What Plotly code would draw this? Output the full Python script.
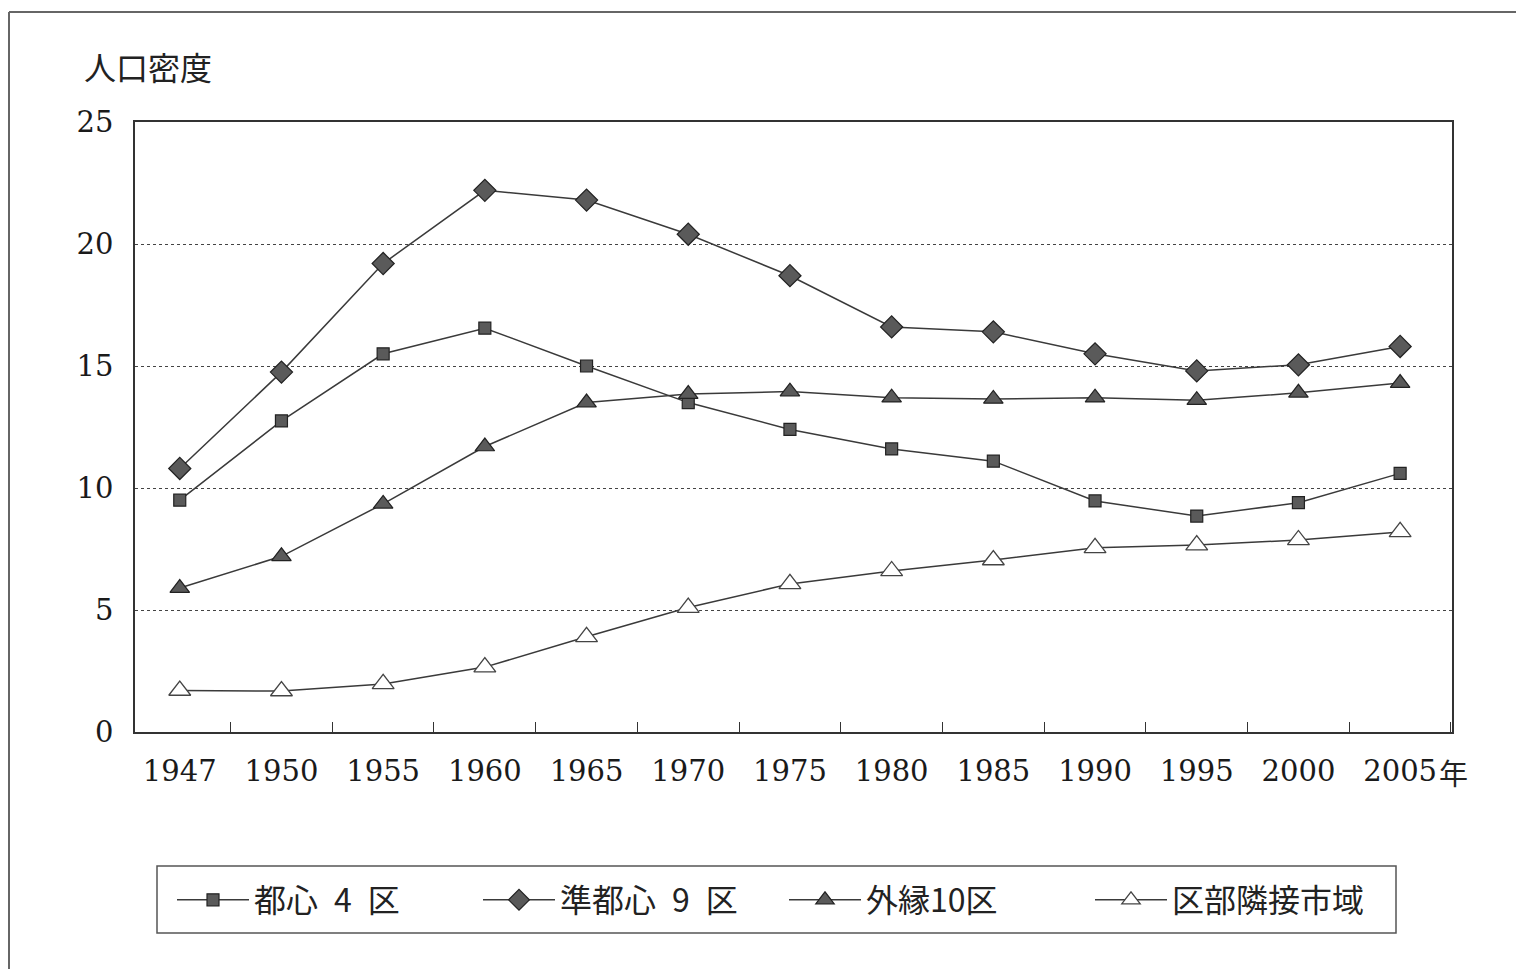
import plotly.graph_objects as go

years = ["1947", "1950", "1955", "1960", "1965", "1970", "1975", "1980", "1985", "1990", "1995", "2000", "2005"]
toshin4 = [9.5, 12.75, 15.5, 16.55, 15.0, 13.5, 12.4, 11.6, 11.1, 9.47, 8.85, 9.4, 10.6]
juntoshin9 = [10.8, 14.75, 19.2, 22.2, 21.8, 20.4, 18.7, 16.6, 16.4, 15.5, 14.8, 15.05, 15.8]
gaien10 = [5.9, 7.2, 9.35, 11.7, 13.5, 13.85, 13.95, 13.7, 13.65, 13.7, 13.6, 13.9, 14.3]
rinsetsu = [1.7, 1.68, 1.97, 2.66, 3.9, 5.1, 6.07, 6.6, 7.05, 7.55, 7.66, 7.87, 8.2]
names = ["都心\u20024\u2002区", "準都心\u20029\u2002区", "外縁10区", "区部隣接市域"]
ytick_vals = [0, 5, 10, 15, 20, 25]

# page body has an 8px margin; lay out in reference pixel coordinates
OFF = 8
W, H = 1524 - OFF, 969 - OFF
plot_l, plot_r, plot_t, plot_b = 135, 1452, 122, 732
L, T = plot_l - OFF, plot_t - OFF
R, B = W - (plot_r - OFF), H - (plot_b - OFF)
pw, ph = plot_r - plot_l, plot_b - plot_t

def px_x(x):
    return (x - plot_l) / pw

def px_y(y):
    return (plot_b - y) / ph

line_col = "#3a3a3a"
fig = go.Figure()
fig.add_trace(go.Scatter(x=years, y=toshin4, name=names[0], mode="lines+markers",
                         line=dict(color=line_col, width=1.5),
                         marker=dict(symbol="square", size=12, color="#5a5a5a",
                                     line=dict(color="#222", width=1.2))))
fig.add_trace(go.Scatter(x=years, y=juntoshin9, name=names[1], mode="lines+markers",
                         line=dict(color=line_col, width=1.5),
                         marker=dict(symbol="diamond", size=17, color="#5a5a5a",
                                     line=dict(color="#222", width=1.2))))
fig.add_trace(go.Scatter(x=years, y=gaien10, name=names[2], mode="lines+markers",
                         line=dict(color=line_col, width=1.5),
                         marker=dict(symbol="triangle-up", size=17, color="#5a5a5a",
                                     line=dict(color="#222", width=1.2))))
fig.add_trace(go.Scatter(x=years, y=rinsetsu, name=names[3], mode="lines+markers",
                         line=dict(color=line_col, width=1.5),
                         marker=dict(symbol="triangle-up", size=19, color="white",
                                     line=dict(color="#444", width=1.3))))

serif = "DejaVu Serif"
cjk = "Noto Sans CJK JP"

fig.update_layout(
    width=W, height=H,
    margin=dict(l=L, r=R, t=T, b=B, pad=0),
    paper_bgcolor="white", plot_bgcolor="white",
    font=dict(family=cjk, color="#222"),
    xaxis=dict(type="category", range=[-0.44, 12.51], showline=True, mirror=True,
               linecolor="#333", linewidth=1.5, showgrid=False, ticks="inside",
               tickson="boundaries", ticklen=10, tickcolor="#333", tickwidth=1.2,
               tickfont=dict(family=serif, size=29, color="#1a1a1a"), ticklabelstandoff=12),
    yaxis=dict(range=[0, 25], tickvals=ytick_vals, showline=True, mirror=True,
               linecolor="#333", linewidth=1.5, showgrid=True, gridcolor="#444",
               griddash="dot", gridwidth=1, zeroline=False, ticks="",
               tickfont=dict(family=serif, size=29, color="#1a1a1a"), ticklabelstandoff=14),
    showlegend=True,
    legend=dict(orientation="h", x=px_x(172), xanchor="left", y=px_y(900), yanchor="middle",
                borderwidth=0, bgcolor="rgba(0,0,0,0)",
                font=dict(family=cjk, size=32, color="#222"),
                entrywidth=219, itemwidth=72, tracegroupgap=0),
    annotations=[
        dict(text="人口密度", x=px_x(82), y=px_y(66), xref="paper", yref="paper",
             xanchor="left", yanchor="middle", showarrow=False,
             font=dict(family=cjk, size=32, color="#222")),
        dict(text="年", x=px_x(1437), y=px_y(772), xref="paper", yref="paper",
             xanchor="left", yanchor="middle", showarrow=False,
             font=dict(family=cjk, size=29, color="#222")),
    ],
    shapes=[
        dict(type="line", xref="paper", yref="paper", x0=px_x(9), x1=px_x(1530),
             y0=px_y(12), y1=px_y(12), line=dict(color="#666", width=2)),
        dict(type="line", xref="paper", yref="paper", x0=px_x(9), x1=px_x(9),
             y0=px_y(12), y1=px_y(975), line=dict(color="#666", width=2)),
        dict(type="rect", xref="paper", yref="paper", x0=px_x(157), x1=px_x(1396),
             y0=px_y(866), y1=px_y(933), line=dict(color="#555", width=1.5),
             fillcolor="rgba(0,0,0,0)", layer="below"),
    ],
)

fig.write_html("out.html")
